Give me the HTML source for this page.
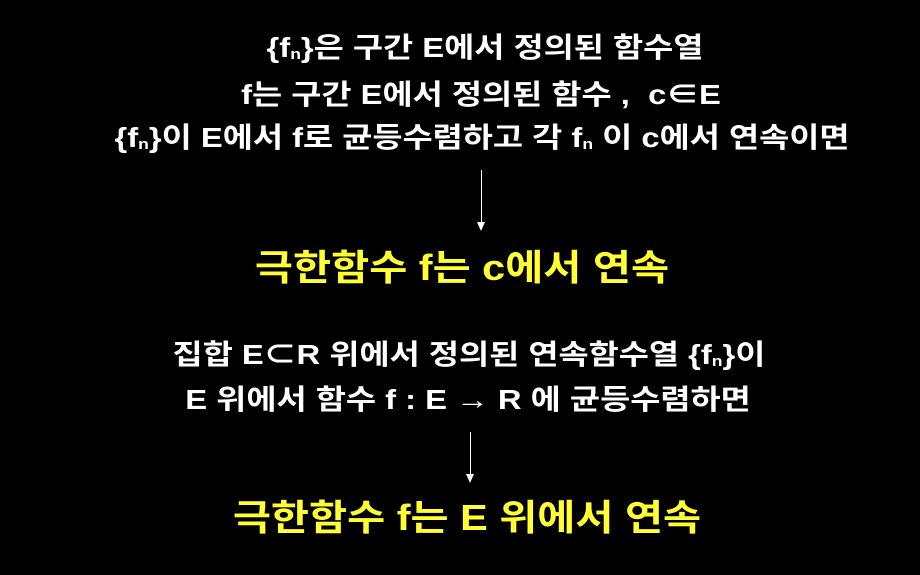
<!DOCTYPE html>
<html><head><meta charset="utf-8"><style>
html,body{margin:0;padding:0;background:#000;}
body{width:920px;height:575px;position:relative;overflow:hidden;font-family:"Liberation Sans","Noto Sans CJK KR",sans-serif;font-weight:bold;}
.l{position:absolute;white-space:nowrap;transform:translateX(-50%) scaleX(1.17);color:#fff;font-size:28px;line-height:30px;}
.y{color:#ffff33;font-size:36px;line-height:40px;transform:translateX(-50%) scaleX(1.15);}
sub{font-size:15px;vertical-align:baseline;position:relative;top:2px;}
.a{position:absolute;width:1px;background:#fff;}
.h{position:absolute;width:0;height:0;border-left:4px solid transparent;border-right:4px solid transparent;border-top:9px solid #fff;}
</style></head><body>
<div class="l" style="left:485px;top:33px">{f<sub>n</sub>}은 구간 E에서 정의된 함수열</div>
<div class="l" style="left:481px;top:80px">f는 구간 E에서 정의된 함수 ,&nbsp; c∈E</div>
<div class="l" style="left:482px;top:123px">{f<sub>n</sub>}이 E에서 f로 균등수렴하고 각 f<sub>n</sub> 이 c에서 연속이면</div>
<div class="a" style="left:481px;top:170px;height:54px"></div>
<div class="h" style="left:477px;top:222px"></div>
<div class="l y" style="left:462px;top:248px">극한함수 f는 c에서 연속</div>
<div class="l" style="left:469px;top:340px">집합 E⊂R 위에서 정의된 연속함수열 {f<sub>n</sub>}이</div>
<div class="l" style="left:468px;top:385px">E 위에서 함수 f : E → R 에 균등수렴하면</div>
<div class="a" style="left:470px;top:432px;height:44px"></div>
<div class="h" style="left:466px;top:474px"></div>
<div class="l y" style="left:467px;top:498px">극한함수 f는 E 위에서 연속</div>
</body></html>
